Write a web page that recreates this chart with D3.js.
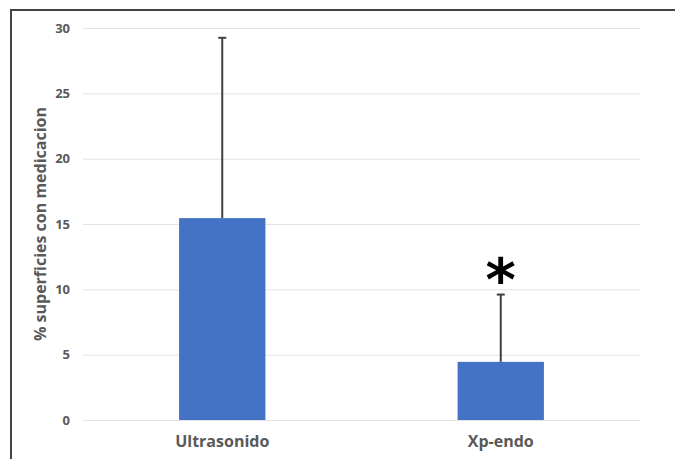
<!DOCTYPE html>
<html>
<head>
<meta charset="utf-8">
<script src="https://cdn.jsdelivr.net/npm/d3@7"></script>
<style>
  body { margin: 0; background: #fff; }
  svg { display: block; font-family: "Open Sans", "Noto Sans", sans-serif; }
</style>
</head>
<body>
<svg id="chart" width="675" height="459"></svg>
<script>
const categories = ["Ultrasonido", "Xp-endo"];
const means = [15.45, 4.45];
const errorTops = [29.25, 9.6];
const significant = [false, true];
const yTicks = [0, 5, 10, 15, 20, 25, 30];
const yLabel = "% superficies con medicacion";

const svg = d3.select("#chart");
const margin = { top: 28, right: 35, bottom: 39, left: 83 };
const width = 675 - margin.left - margin.right;
const height = 459 - margin.top - margin.bottom;

// frame (top and left edges visible)
svg.append("path")
    .attr("d", "M11,459 L11,10 L675,10")
    .attr("fill", "none")
    .attr("stroke", "#444")
    .attr("stroke-width", 2);

const g = svg.append("g")
    .attr("transform", "translate(" + margin.left + "," + margin.top + ")");

const x = d3.scaleBand().domain(categories).range([0, width]).paddingInner(0.69).paddingOuter(0.345);
const y = d3.scaleLinear().domain([0, 30]).range([height, 0]);

// gridlines
g.append("g")
    .selectAll("line")
    .data(yTicks)
    .enter()
    .append("line")
    .attr("x1", 0)
    .attr("x2", width)
    .attr("y1", d => y(d) + 0.5)
    .attr("y2", d => y(d) + 0.5)
    .attr("stroke", "#e3e3e3")
    .attr("stroke-width", 1);

// y tick labels
g.append("g")
    .selectAll("text")
    .data(yTicks)
    .enter()
    .append("text")
    .attr("x", -13)
    .attr("y", d => y(d))
    .attr("dy", "0.35em")
    .attr("text-anchor", "end")
    .attr("font-size", 13)
    .attr("font-weight", "bold")
    .attr("fill", "#595959")
    .text(d => d);

// y axis title
svg.append("text")
    .attr("transform", "translate(46," + (margin.top + height / 2) + ") rotate(-90)")
    .attr("text-anchor", "middle")
    .attr("font-size", 16)
    .attr("font-weight", "bold")
    .attr("fill", "#595959")
    .text(yLabel);

// error bars
const err = g.append("g")
    .selectAll("g")
    .data(categories)
    .enter()
    .append("g");

err.append("line")
    .attr("x1", d => x(d) + x.bandwidth() / 2)
    .attr("x2", d => x(d) + x.bandwidth() / 2)
    .attr("y1", (d, i) => y(means[i]))
    .attr("y2", (d, i) => y(errorTops[i]))
    .attr("stroke", "#404040")
    .attr("stroke-width", 2);

err.append("line")
    .attr("x1", d => x(d) + x.bandwidth() / 2 - 4)
    .attr("x2", d => x(d) + x.bandwidth() / 2 + 4)
    .attr("y1", (d, i) => y(errorTops[i]))
    .attr("y2", (d, i) => y(errorTops[i]))
    .attr("stroke", "#404040")
    .attr("stroke-width", 2);

// bars
g.append("g")
    .selectAll("rect")
    .data(categories)
    .enter()
    .append("rect")
    .attr("x", d => x(d))
    .attr("y", (d, i) => y(means[i]))
    .attr("width", x.bandwidth())
    .attr("height", (d, i) => height - y(means[i]))
    .attr("fill", "#4472c4");

// significance marker
g.append("g")
    .selectAll("text")
    .data(categories.filter((d, i) => significant[i]))
    .enter()
    .append("text")
    .attr("x", d => x(d) + x.bandwidth() / 2)
    .attr("y", d => y(errorTops[categories.indexOf(d)]) + 5)
    .attr("text-anchor", "middle")
    .attr("font-size", 58)
    .attr("font-family", "'DejaVu Sans', sans-serif")
    .attr("font-weight", "bold")
    .attr("fill", "#000")
    .text("*");

// category labels
g.append("g")
    .selectAll("text")
    .data(categories)
    .enter()
    .append("text")
    .attr("x", d => x(d) + x.bandwidth() / 2)
    .attr("y", height + 27)
    .attr("text-anchor", "middle")
    .attr("font-size", 16)
    .attr("font-weight", "bold")
    .attr("fill", "#595959")
    .text(d => d);
</script>
</body>
</html>
